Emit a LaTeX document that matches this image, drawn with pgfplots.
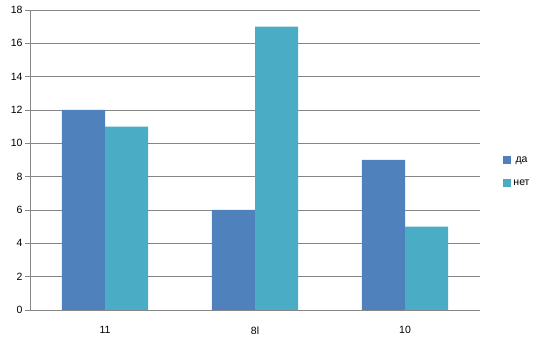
\documentclass[border=0pt]{standalone}
\usepackage{fontspec}
\setmainfont{Liberation Sans}
\usepackage{pgfplots}
\pgfplotsset{compat=1.18}
\definecolor{da}{HTML}{4F81BD}
\definecolor{net}{HTML}{4BACC6}
\definecolor{gridc}{HTML}{868686}
\begin{document}
\begin{tikzpicture}
\begin{axis}[
  at={(0pt,0pt)}, anchor=south west,
  scale only axis, width=450pt, height=300pt,
  ybar=0pt, bar width=0.287,
  xmin=-0.5, xmax=2.5, ymin=0, ymax=18,
  ytick={0,2,...,18},
  xtick={0,1,2}, xticklabels={11,8l,10,},
  major x tick style={draw=none},
  extra x ticks={-0.5,0.5,1.5,2.5}, extra x tick labels={},
  extra x tick style={major tick length=5pt, tick style={draw=gridc, thick}, grid=none},
  axis x line=bottom, axis y line=left,
  axis line style={draw=gridc, thick, -},
  ymajorgrids, grid style={draw=gridc, thick},
  ytick style={draw=gridc, thick}, major tick length=5pt,
  tick align=outside,
  every tick label/.append style={font=\fontsize{10.5}{12}\selectfont, text=black},
  yticklabel style={xshift=1pt},
  xticklabel style={yshift=-8pt},
  /pgf/number format/assume math mode=true,
  legend style={at={(1.045,0.46)}, anchor=west, draw=none, fill=none, font=\fontsize{10.5}{12}\selectfont, row sep=12pt},
  legend image code/.code={\draw[#1, draw=none] (0cm,-3.5pt) rectangle (8pt,4.5pt);},
  clip=false,
]
\addplot[fill=da, draw=none] coordinates {(0,12) (1,6) (2,9)};
\addplot[fill=net, draw=none] coordinates {(0,11) (1,17) (2,5)};
\legend{да,нет}
\end{axis}
\useasboundingbox (-30pt,-34pt) rectangle (518pt,310pt);
\end{tikzpicture}
\end{document}
